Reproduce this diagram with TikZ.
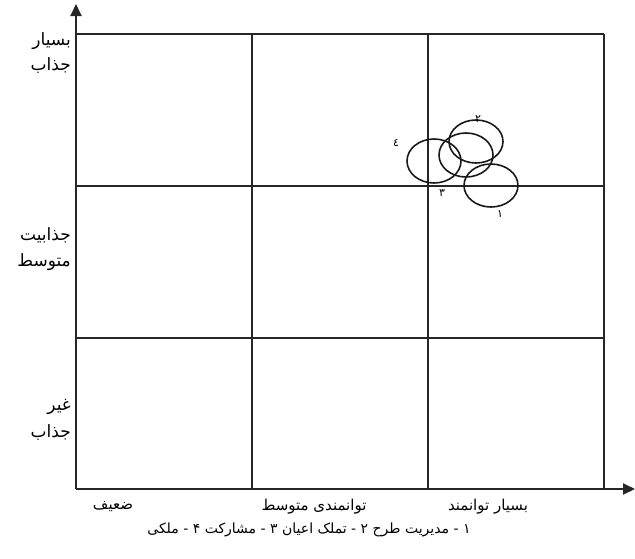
\documentclass[tikz,border=0pt]{standalone}
\usepackage{fontspec}
\usetikzlibrary{arrows.meta}
\TeXXeTstate=1
\newfontfamily\fa[Script=Arabic]{DejaVu Sans}
\tikzset{
  gridline/.style={line width=2pt, draw=black!85},
  axisline/.style={line width=2pt, draw=black!85, -{Triangle[length=12pt,width=11pt]}},
  blob/.style={line width=1.6pt, draw=black!90},
  ylab/.style={anchor=east, inner sep=0pt, font=\fa\fontsize{17}{19}\selectfont},
  xlab/.style={inner sep=0pt, font=\fa\fontsize{15}{17}\selectfont},
  caplab/.style={inner sep=0pt, font=\fa\fontsize{14}{16}\selectfont},
  numlab/.style={inner sep=0pt, font=\fa\fontsize{11}{12}\selectfont},
}
\begin{document}
\begin{tikzpicture}[x=1pt,y=-1pt]
\useasboundingbox (0,0) rectangle (635,558);
% axes
\coordinate (O) at (76,489);
\coordinate (Ytop) at (76,4);
\coordinate (Xend) at (635,489);
\draw[axisline] (O) -- (Ytop);
\draw[axisline] (O) -- (Xend);
% grid
\draw[gridline] (76,34) -- (604,34);
\draw[gridline] (76,186) -- (604,186);
\draw[gridline] (76,338) -- (604,338);
\draw[gridline] (252,34) -- (252,489);
\draw[gridline] (428,34) -- (428,489);
\draw[gridline] (604,34) -- (604,489);
% ellipses
\draw[blob] (434,161) ellipse [x radius=27, y radius=22];
\draw[blob] (476,141.5) ellipse [x radius=27, y radius=21.5];
\draw[blob] (466,155) ellipse [x radius=27, y radius=22];
\draw[blob] (491,185.5) ellipse [x radius=27, y radius=21.5];
\node[numlab] (n4) at (396,143) {\beginR ٤\endR};
\node[numlab] (n2) at (478,119) {\beginR ٢\endR};
\node[numlab] (n3) at (442,193) {\beginR ٣\endR};
\node[numlab] (n1) at (500,214) {\beginR ١\endR};
% y labels
\node[ylab] (y1a) at (71,41) {\beginR بسیار\endR};
\node[ylab] (y1b) at (71,65) {\beginR جذاب\endR};
\node[ylab] (y2a) at (71,235) {\beginR جذابیت\endR};
\node[ylab] (y2b) at (71,262) {\beginR متوسط\endR};
\node[ylab] (y3a) at (71,407) {\beginR غیر\endR};
\node[ylab] (y3b) at (71,432) {\beginR جذاب\endR};
% x labels
\node[xlab] (x1) at (113,507) {\beginR ضعیف\endR};
\node[xlab] (x2) at (314,507) {\beginR توانمندی متوسط\endR};
\node[xlab] (x3) at (488,507) {\beginR بسیار توانمند\endR};
% caption
\node[caplab] (cap) at (309,530) {\beginR ۱ - مدیریت طرح ۲ - تملک اعیان ۳ - مشارکت ۴ - ملکی\endR};
\end{tikzpicture}
\end{document}
